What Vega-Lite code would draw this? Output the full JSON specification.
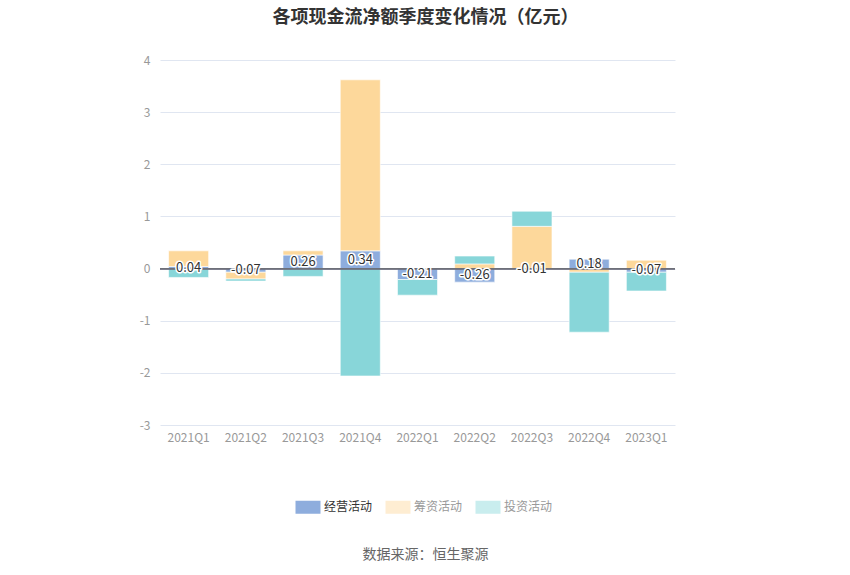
{
  "$schema": "https://vega.github.io/schema/vega-lite/v6.json",
  "width": 515,
  "height": 365,
  "autosize": "none",
  "padding": {"left": 160, "top": 60, "right": 175, "bottom": 150},
  "background": "white",
  "title": {
    "text": "各项现金流净额季度变化情况（亿元）",
    "font": "Noto Sans CJK SC",
    "fontSize": 18,
    "fontWeight": "bold",
    "color": "#333333",
    "anchor": "middle",
    "offset": 27,
    "dx": 8
  },
  "config": {
    "view": {"stroke": null},
    "font": "Noto Sans CJK SC"
  },
  "data": {
    "values": [
      {"q": "2021Q1", "type": "经营活动", "value": 0.04},
      {"q": "2021Q1", "type": "筹资活动", "value": 0.30},
      {"q": "2021Q1", "type": "投资活动", "value": -0.17},
      {"q": "2021Q2", "type": "经营活动", "value": -0.07},
      {"q": "2021Q2", "type": "筹资活动", "value": -0.13},
      {"q": "2021Q2", "type": "投资活动", "value": -0.04},
      {"q": "2021Q3", "type": "经营活动", "value": 0.26},
      {"q": "2021Q3", "type": "筹资活动", "value": 0.08},
      {"q": "2021Q3", "type": "投资活动", "value": -0.15},
      {"q": "2021Q4", "type": "经营活动", "value": 0.34},
      {"q": "2021Q4", "type": "筹资活动", "value": 3.28},
      {"q": "2021Q4", "type": "投资活动", "value": -2.06},
      {"q": "2022Q1", "type": "经营活动", "value": -0.21},
      {"q": "2022Q1", "type": "筹资活动", "value": 0.0},
      {"q": "2022Q1", "type": "投资活动", "value": -0.30},
      {"q": "2022Q2", "type": "经营活动", "value": -0.26},
      {"q": "2022Q2", "type": "筹资活动", "value": 0.09},
      {"q": "2022Q2", "type": "投资活动", "value": 0.15},
      {"q": "2022Q3", "type": "经营活动", "value": -0.01},
      {"q": "2022Q3", "type": "筹资活动", "value": 0.81},
      {"q": "2022Q3", "type": "投资活动", "value": 0.29},
      {"q": "2022Q4", "type": "经营活动", "value": 0.18},
      {"q": "2022Q4", "type": "筹资活动", "value": -0.07},
      {"q": "2022Q4", "type": "投资活动", "value": -1.15},
      {"q": "2023Q1", "type": "经营活动", "value": -0.07},
      {"q": "2023Q1", "type": "筹资活动", "value": 0.16},
      {"q": "2023Q1", "type": "投资活动", "value": -0.36}
    ]
  },
  "encoding": {
    "x": {
      "field": "q",
      "type": "nominal",
      "sort": null,
      "scale": {"paddingInner": 0.3, "paddingOuter": 0.15},
      "axis": {
        "title": "数据来源：恒生聚源",
        "titleFont": "Noto Sans CJK SC",
        "titleFontSize": 14,
        "titleFontWeight": "normal",
        "titleColor": "#666666",
        "titlePadding": 104,
        "titleX": 265,
        "domain": false,
        "ticks": false,
        "labelAngle": 0,
        "labelPadding": 7,
        "labelFontSize": 12,
        "labelColor": "#999999",
        "labelFont": "Noto Sans CJK SC"
      }
    }
  },
  "layer": [
    {
      "mark": {"type": "bar", "stroke": "white", "strokeWidth": 0.6},
      "encoding": {
        "y": {
          "field": "value",
          "type": "quantitative",
          "stack": "zero",
          "scale": {"domain": [-3, 4], "nice": false},
          "axis": {
            "title": null,
            "values": [-3, -2, -1, 0, 1, 2, 3, 4],
            "labelExpr": "datum.value + ''",
            "domain": false,
            "ticks": false,
            "labelPadding": 10,
            "labelFontSize": 12,
            "labelColor": "#999999",
            "gridColor": "#e0e6f1",
            "gridWidth": 1
          }
        },
        "color": {
          "field": "type",
          "type": "nominal",
          "sort": ["经营活动", "筹资活动", "投资活动"],
          "scale": {
            "domain": ["经营活动", "筹资活动", "投资活动"],
            "range": ["#8eaddd", "#fdd89b", "#88d6d9"]
          },
          "legend": {
            "title": null,
            "orient": "none",
            "direction": "horizontal",
            "legendX": 138,
            "legendY": 437,
            "symbolType": "M-1.25,-0.65H1.25V0.65H-1.25Z",
            "symbolSize": 400,
            "symbolStrokeWidth": 0,
            "symbolOpacity": {"expr": "datum.label == '经营活动' ? 1 : 0.45"},
            "labelColor": {"expr": "datum.label == '经营活动' ? '#333333' : '#999999'"},
            "labelFontSize": 12,
            "labelFont": "Noto Sans CJK SC",
            "columnPadding": 12,
            "labelOffset": 6
          }
        },
        "order": {"field": "type", "sort": "descending"}
      }
    },
    {
      "mark": {"type": "rule", "color": "#6e7079", "strokeWidth": 1},
      "encoding": {
        "y": {"datum": 0},
        "x": null
      }
    },
    {
      "transform": [
        {"filter": "datum.type == '经营活动'"},
        {"calculate": "datum.value / 2", "as": "mid"},
        {"calculate": "replace(format(datum.value, '.2f'), '−', '-')", "as": "lbl"}
      ],
      "mark": {
        "type": "text",
        "fontSize": 13,
        "font": "Noto Sans CJK SC",
        "stroke": "white",
        "strokeWidth": 3,
        "strokeJoin": "round",
        "color": "white"
      },
      "encoding": {
        "y": {"field": "mid", "type": "quantitative"},
        "text": {"field": "lbl", "type": "nominal"}
      }
    },
    {
      "transform": [
        {"filter": "datum.type == '经营活动'"},
        {"calculate": "datum.value / 2", "as": "mid"},
        {"calculate": "replace(format(datum.value, '.2f'), '−', '-')", "as": "lbl"}
      ],
      "mark": {
        "type": "text",
        "fontSize": 13,
        "font": "Noto Sans CJK SC",
        "color": "#333333"
      },
      "encoding": {
        "y": {"field": "mid", "type": "quantitative"},
        "text": {"field": "lbl", "type": "nominal"}
      }
    }
  ]
}
